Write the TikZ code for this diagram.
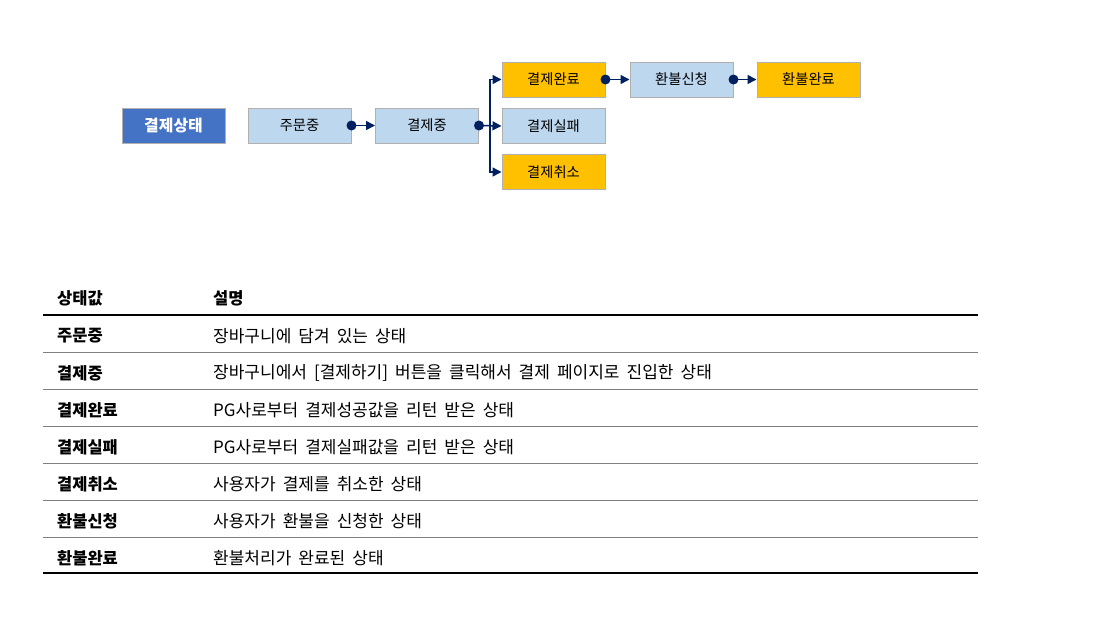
\documentclass[tikz,border=0pt]{standalone}
\usepackage{fontspec}
\setmainfont{Noto Sans CJK KR}
\newfontfamily\descfont[WordSpace=1.85]{Noto Sans CJK KR}
\usetikzlibrary{arrows.meta,calc}
\definecolor{hdr}{HTML}{4472C4}
\definecolor{lblue}{HTML}{BDD7EE}
\definecolor{yel}{HTML}{FFC000}
\definecolor{bgray}{HTML}{B0B0B0}
\definecolor{navy}{HTML}{002060}
\definecolor{rule}{HTML}{808080}
\begin{document}
\begin{tikzpicture}[x=1pt,y=-1pt,
  box/.style={draw=bgray, line width=1pt, minimum width=103pt, minimum height=35pt, inner sep=0pt, font=\fontsize{14.3}{16}\selectfont},
  lb/.style={box, fill=lblue},
  yb/.style={box, fill=yel},
  conn/.style={draw=navy, line width=1.5pt, -{Triangle[length=9pt,width=9pt]}},
  dotn/.style={circle, fill=navy, inner sep=0pt, minimum size=10pt},
  th/.style={anchor=west, inner sep=0pt, font=\fontsize{16.5}{18}\selectfont\bfseries},
  td/.style={anchor=west, inner sep=0pt, font=\descfont\fontsize{17}{19}\selectfont},
  thickrule/.style={line width=2pt, black},
  rowrule/.style={line width=1pt, rule},
  ]
\useasboundingbox[fill=white] (0,0) rectangle (1114,637);

\node[box, fill=hdr, text=white, font=\fontsize{15.9}{17}\selectfont\bfseries] (st) at (173.5,126) {결제상태};
\node[lb] (s1) at (299.5,125.5) {주문중};
\node[lb] (s2) at (427,125.5) {결제중};
\node[yb] (s3) at (553.5,79.5) {결제완료};
\node[lb] (s4) at (553.5,126) {결제실패};
\node[yb] (s5) at (553.5,172) {결제취소};
\node[lb] (s6) at (681.5,79.5) {환불신청};
\node[yb] (s7) at (808.5,79.5) {환불완료};

\node[dotn] (d1) at (s1.east) {};
\draw[conn] (d1.center) -- (s2.west);
\node[dotn] (d2) at (s2.east) {};
\coordinate (j) at ($(s2.east)+(11,0)$);
\draw[conn] (d2.center) -- (s4.west);
\draw[conn] (j) |- (s3.west);
\draw[conn] (j) |- (s5.west);
\node[dotn] (d3) at (s3.east) {};
\draw[conn] (d3.center) -- (s6.west);
\node[dotn] (d4) at (s6.east) {};
\draw[conn] (d4.center) -- (s7.west);

% table
\node[th] (h1) at (57,298) {상태값};
\node[th] (h2) at (213,298) {설명};
\draw[thickrule] (43,315) -- (978,315);
\node[th] (k1) at (57,336) {주문중};
\node[td] (v1) at (213,336) {장바구니에 담겨 있는 상태};
\draw[rowrule] (43,352) -- (978,352);
\node[th] (k2) at (57,373) {결제중};
\node[td] (v2) at (213,373) {장바구니에서 [결제하기] 버튼을 클릭해서 결제 페이지로 진입한 상태};
\draw[rowrule] (43,389) -- (978,389);
\node[th] (k3) at (57,410) {결제완료};
\node[td] (v3) at (213,410) {PG사로부터 결제성공값을 리턴 받은 상태};
\draw[rowrule] (43,426) -- (978,426);
\node[th] (k4) at (57,447) {결제실패};
\node[td] (v4) at (213,447) {PG사로부터 결제실패값을 리턴 받은 상태};
\draw[rowrule] (43,463) -- (978,463);
\node[th] (k5) at (57,484) {결제취소};
\node[td] (v5) at (213,484) {사용자가 결제를 취소한 상태};
\draw[rowrule] (43,500) -- (978,500);
\node[th] (k6) at (57,521) {환불신청};
\node[td] (v6) at (213,521) {사용자가 환불을 신청한 상태};
\draw[rowrule] (43,537) -- (978,537);
\node[th] (k7) at (57,558) {환불완료};
\node[td] (v7) at (213,558) {환불처리가 완료된 상태};
\draw[line width=1.5pt, black] (43,573) -- (978,573);
\end{tikzpicture}
\end{document}
